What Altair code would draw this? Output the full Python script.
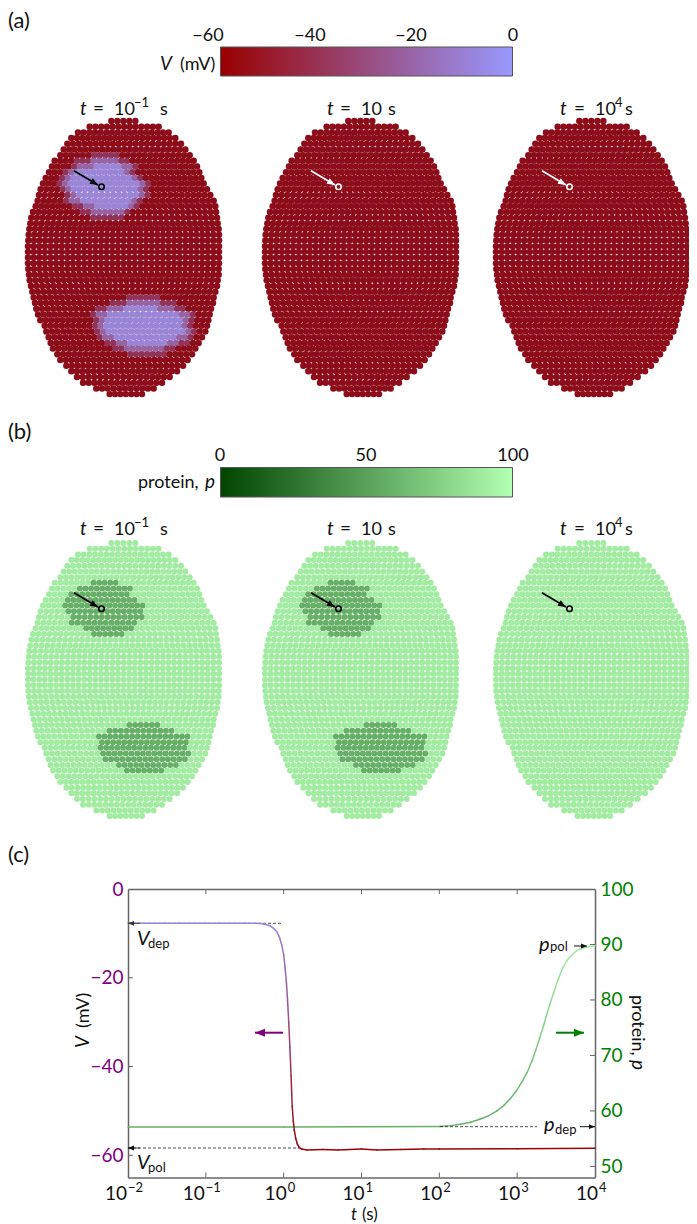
import math
import altair as alt
import pandas as pd

# ---------- values: outline of the cell sheet, row by row (read on a 3x crop) ----------
ROW_LEFT_3X = [325,260,225,205,193,182,172,155,147,138,128,120,113,108,104,98,90,85,82,79,77,76,75,75,75,75,76,78,80,84,88,92,96,100,105,112,125,130,137,143,150,163,172,190,205,222,240,280,320]
ROW_RIGHT_3X = [415,485,515,535,552,565,578,590,600,607,613,620,630,640,650,655,657,660,662,665,666,666,666,666,666,666,665,665,662,660,655,650,648,642,638,634,630,625,615,605,595,585,572,558,540,518,495,470,435]
SPOT1_ROWS = [7,8,9,10,11,12,13,14,15,16]
SPOT1_FIRST = [12,9,8,7,7,7,8,8,10,12]
SPOT1_LAST  = [16,18,18,19,20,20,20,19,18,17]
SPOT2_ROWS = [32,33,34,35,36,37,38,39,40]
SPOT2_FIRST = [18,15,13,13,13,13,14,16,18]
SPOT2_LAST  = [23,26,28,28,28,29,28,26,24]
V_POL_CELL, V_DEP_CELL, V_EDGE_IN, V_EDGE_OUT = -58.5, -8, -22, -42
P_POL_CELL, P_DEP_CELL = 90, 57

LOG_T_V = [-2,-1,-0.5,-0.3,-0.24,-0.175,-0.13,-0.09,-0.055,-0.025,0,0.017,0.035,0.05,0.065,0.08,0.095,0.11,0.124,0.137,0.155,0.175,0.2,0.23,0.3,0.5,0.7,1,1.2,1.5,1.8,2,3,4]
V_CURVE = [-7.7,-7.7,-7.7,-7.75,-7.95,-8.3,-8.85,-9.6,-10.8,-12.6,-14.8,-17.5,-21,-25,-30,-35.6,-42,-49,-52.3,-54.4,-56.2,-57.4,-58.2,-58.6,-58.8,-58.7,-58.8,-58.6,-58.8,-58.7,-58.6,-58.6,-58.5,-58.4]
LOG_T_P = [-2,0,2,2.15,2.27,2.4,2.52,2.63,2.74,2.83,2.91,2.99,3.06,3.13,3.19,3.24,3.29,3.34,3.38,3.44,3.49,3.54,3.59,3.645,3.70,3.755,3.81,3.865,3.92,4]
P_CURVE = [57.1,57.1,57.2,57.35,57.6,57.95,58.5,59.1,60.0,61.0,62.2,63.6,65.2,67.0,69.0,71.0,73.2,75.4,77.4,80.1,82.2,84.2,85.9,87.2,88.1,88.75,89.15,89.45,89.6,89.75]
V_TICKS = [-60,-40,-20,0]
P_TICKS = [50,60,70,80,90,100]
T_TICKS = [0.01,0.1,1,10,100,1000,10000]

FONT = "Lato"
W, H = 681, 1216
CX = alt.Scale(domain=[8, 8 + W], range=[0, W])
CY = alt.Scale(domain=[8 + H, 8])
T_SCALE = alt.Scale(type="log", domain=[0.01, 10000], range=[120, 587], nice=False)
V_SCALE = alt.Scale(domain=[-65, 0], range=[1169.5, 881], nice=False, zero=False)
P_SCALE = alt.Scale(domain=[48, 100], range=[1169.5, 881], nice=False, zero=False)
V_COL = alt.Scale(domain=[-60, 0], range=["#990000", "#9999ff"], interpolate="rgb")
P_COL = alt.Scale(domain=[0, 100], range=["#004400", "#b3ffb3"], interpolate="rgb")
CELL_V_COL = alt.Scale(domain=[-60, 0], range=["#8c0814", "#9c98f5"], interpolate="rgb")
PX = alt.X("px:Q", scale=CX, axis=None)
PY = alt.Y("py:Q", scale=CY, axis=None)
PANEL_DX = [0, 237, 468]
PANEL_DY = [0, 422]

spots = set()
for rows, a, b in ((SPOT1_ROWS, SPOT1_FIRST, SPOT1_LAST), (SPOT2_ROWS, SPOT2_FIRST, SPOT2_LAST)):
    for r, f, l in zip(rows, a, b):
        spots.update((r, c) for c in range(f, l + 1))

def nbrs(r, c):
    return [(r + 1, c), (r - 1, c), (r, c + 1), (r, c - 1)]

cells_a, cells_b = [], []
for r, (lf, rt) in enumerate(zip(ROW_LEFT_3X, ROW_RIGHT_3X)):
    x_l, x_r = lf / 3 + 3, rt / 3 - 3
    n = max(1, round((x_r - x_l) / 5.62))
    y0 = 121 + 5.69 * r
    for k in range(n + 1):
        x0 = x_l + (x_r - x_l) * k / n
        c = round((x0 - 28) / 5.62)
        if (r, c) in spots:
            v = V_DEP_CELL if all(m in spots for m in nbrs(r, c)) else V_EDGE_IN
            p = P_DEP_CELL
        else:
            v = V_EDGE_OUT if any(m in spots for m in nbrs(r, c)) else V_POL_CELL
            p = P_POL_CELL
        for i, dx in enumerate(PANEL_DX):
            cells_a.append({"px": x0 + dx, "py": y0, "val": v if i == 0 else V_POL_CELL})
            cells_b.append({"px": x0 + dx, "py": y0 + PANEL_DY[1], "val": p if i < 2 else P_POL_CELL})

layers = []
layers.append(alt.Chart(pd.DataFrame(cells_a)).mark_circle(size=42, opacity=1).encode(
    x=PX, y=PY, color=alt.Color("val:Q", scale=CELL_V_COL, legend=None)))
layers.append(alt.Chart(pd.DataFrame(cells_b)).mark_circle(size=36, opacity=1).encode(
    x=PX, y=PY, color=alt.Color("val:Q", scale=P_COL, legend=None)))

# colour bars
def bar(y0, y1, c0, c1):
    grad = alt.LinearGradient(gradient="linear", x1=0, x2=1, y1=0, y2=0,
                              stops=[alt.GradientStop(color=c0, offset=0), alt.GradientStop(color=c1, offset=1)])
    return alt.Chart(pd.DataFrame([{"px": 220.5, "px2": 512.5, "py": y0, "py2": y1}])).mark_rect(
        color=grad, stroke="#555555", strokeWidth=1).encode(x=PX, x2="px2:Q", y=PY, y2="py2:Q")
layers.append(bar(47, 76, "#990000", "#9999ff"))
layers.append(bar(467.5, 497, "#004400", "#b3ffb3"))

# panel (c): green curve first, dashes, then red curve
def seg_df(lt, vals):
    return pd.DataFrame([{"t": 10 ** lt[i], "t2": 10 ** lt[i + 1], "a": vals[i], "a2": vals[i + 1],
                          "m": (vals[i] + vals[i + 1]) / 2} for i in range(len(lt) - 1)])

layers.append(alt.Chart(seg_df(LOG_T_P, P_CURVE)).mark_rule(strokeWidth=1.5, strokeCap="round").encode(
    x=alt.X("t:Q", scale=T_SCALE, axis=None), x2="t2:Q",
    y=alt.Y("a:Q", scale=P_SCALE, axis=None), y2="a2:Q",
    color=alt.Color("m:Q", scale=P_COL, legend=None)))

DASHES = [(128, 923.3, 282, 923.3), (128, 1148, 300, 1148), (440, 1126.7, 537, 1126.7)]
layers.append(alt.Chart(pd.DataFrame([{"px": a, "py": b, "px2": c, "py2": d} for a, b, c, d in DASHES])).mark_rule(
    color="#222222", strokeWidth=0.8, strokeDash=[3, 2]).encode(x=PX, x2="px2:Q", y=PY, y2="py2:Q"))

layers.append(alt.Chart(seg_df(LOG_T_V, V_CURVE)).mark_rule(strokeWidth=1.5, strokeCap="round").encode(
    x=alt.X("t:Q", scale=T_SCALE, axis=None), x2="t2:Q",
    y=alt.Y("a:Q", scale=V_SCALE, axis=None), y2="a2:Q",
    color=alt.Color("m:Q", scale=V_COL, legend=None)))

# frame and inward ticks
AX = dict(domainColor="#666666", domainWidth=1.5, tickSize=0, grid=False, title=None, ticks=False)
lab = dict(labelFont=FONT, labelFontSize=19, labelPadding=5)
tick_color = "#666666"
layers.append(alt.Chart(pd.DataFrame({"t": T_TICKS[1:-1]})).mark_rule(color=tick_color, strokeWidth=1).encode(
    x=alt.X("t:Q", scale=T_SCALE, axis=alt.Axis(orient="top", offset=-881, labels=False, **AX)),
    y=alt.value(881), y2=alt.value(886)))
layers.append(alt.Chart(pd.DataFrame({"t": T_TICKS[1:-1]})).mark_rule(color=tick_color, strokeWidth=1).encode(
    x=alt.X("t:Q", scale=T_SCALE, axis=alt.Axis(orient="bottom", offset=-(H - 1169.5), labels=False, **AX)),
    y=alt.value(1164.5), y2=alt.value(1169.5)))
layers.append(alt.Chart(pd.DataFrame({"a": V_TICKS[:-1]})).mark_rule(color=tick_color, strokeWidth=1).encode(
    y=alt.Y("a:Q", scale=V_SCALE, axis=alt.Axis(orient="left", offset=-120, values=V_TICKS, labelColor="#800080", **lab, **AX)),
    x=alt.value(120), x2=alt.value(125)))
layers.append(alt.Chart(pd.DataFrame({"a": P_TICKS[:-1]})).mark_rule(color=tick_color, strokeWidth=1).encode(
    y=alt.Y("a:Q", scale=P_SCALE, axis=alt.Axis(orient="right", offset=-(W - 587), values=P_TICKS, labelColor="#008000", **lab, **AX)),
    x=alt.value(582), x2=alt.value(587)))

# arrows: x0, y0, x1, y1, colour, width, head length
ARROWS = [(140, 923.3, 128, 923.3, "#333333", 0.8, 6), (140, 1148, 128, 1148, "#111111", 0.8, 6),
          (580, 1126.7, 595, 1126.7, "#111111", 1, 6), (574, 946, 587, 946, "#111111", 1, 6),
          (283, 1032.7, 255, 1032.7, "#800080", 2, 10), (556, 1032.7, 584, 1032.7, "#008000", 2, 10)]
RINGS = []
for j, dy in enumerate(PANEL_DY):
    for i, dx in enumerate(PANEL_DX):
        col = "white" if (j == 0 and i > 0) else "black"
        ARROWS.append((74 + dx, 170.7 + dy, 98 + dx, 185 + dy, col, 1.8, 8))
        RINGS.append({"px": 101.5 + dx, "py": 186.7 + dy, "c": col})

arrow_lines, arrow_heads = [], []
for a, b, c, d, col, w, s in ARROWS:
    ln = math.hypot(c - a, d - b)
    arrow_lines.append({"px": a, "py": b, "px2": c, "py2": d, "c": col, "w": w})
    arrow_heads.append({"px": c - (c - a) / ln * s / 2, "py": d - (d - b) / ln * s / 2, "c": col, "s": s * s,
                        "ang": (math.degrees(math.atan2(c - a, b - d)) + 360) % 360})
layers.append(alt.Chart(pd.DataFrame(arrow_lines)).mark_rule().encode(
    x=PX, x2="px2:Q", y=PY, y2="py2:Q", color=alt.Color("c:N", scale=None),
    strokeWidth=alt.StrokeWidth("w:Q", scale=None)))
layers.append(alt.Chart(pd.DataFrame(arrow_heads)).mark_point(shape="M0,-1L0.8,1L-0.8,1Z", filled=True, opacity=1).encode(
    x=PX, y=PY, color=alt.Color("c:N", scale=None), size=alt.Size("s:Q", scale=None),
    angle=alt.Angle("ang:Q", scale=None)))
layers.append(alt.Chart(pd.DataFrame(RINGS)).mark_point(shape="circle", filled=False, size=30, strokeWidth=1.6, opacity=1).encode(
    x=PX, y=PY, color=alt.Color("c:N", scale=None)))

# texts: text, x, y, size, italic, angle, colour, align
K = "#111111"
TEXTS = [("(a)", 8, 28, 22, 0, 0, K, "left"), ("(b)", 8, 439, 22, 0, 0, K, "left"), ("(c)", 8, 862, 22, 0, 0, K, "left"),
         ("V", 160, 70, 19, 1, 0, K, "left"), ("(mV)", 180, 70, 18, 0, 0, K, "left"),
         ("protein,", 138, 488, 18, 0, 0, K, "left"), ("p", 205, 488, 19, 1, 0, K, "left"),
         ("−60", 208, 41, 18, 0, 0, K, "center"), ("−40", 310, 41, 18, 0, 0, K, "center"),
         ("−20", 411, 41, 18, 0, 0, K, "center"), ("0", 513, 41, 18, 0, 0, K, "center"),
         ("0", 220, 461, 18, 0, 0, K, "center"), ("50", 366, 461, 18, 0, 0, K, "center"), ("100", 513, 461, 18, 0, 0, K, "center"),
         ("V", 89, 1048, 19, 1, 270, K, "left"), ("(mV)", 89, 1028, 18, 0, 270, K, "left"),
         ("protein,", 632, 995, 18, 0, 90, K, "left"), ("p", 632, 1060, 19, 1, 90, K, "left"),
         ("t", 351, 1220, 17, 1, 0, K, "left"), ("(s)", 362, 1220, 17, 0, 0, K, "left"),
         ("V", 137, 945, 20, 1, 0, K, "left"), ("dep", 148, 948, 13, 0, 0, K, "left"),
         ("V", 137, 1169, 20, 1, 0, K, "left"), ("pol", 148, 1172, 13, 0, 0, K, "left"),
         ("p", 539, 951, 20, 1, 0, K, "left"), ("pol", 550, 951, 13, 0, 0, K, "left"),
         ("p", 544, 1131, 20, 1, 0, K, "left"), ("dep", 555, 1134, 13, 0, 0, K, "left")]
for yb in (115, 535):
    TEXTS += [("t", 80, yb, 19, 1, 0, K, "left"), ("=", 93, yb, 19, 0, 0, K, "left"), ("10", 114, yb, 18, 0, 0, K, "left"),
              ("−1", 134, yb - 8, 13, 0, 0, K, "left"), ("s", 160, yb, 18, 0, 0, K, "left"),
              ("t", 327, yb, 19, 1, 0, K, "left"), ("=", 340, yb, 19, 0, 0, K, "left"), ("10", 361, yb, 18, 0, 0, K, "left"),
              ("s", 388, yb, 18, 0, 0, K, "left"),
              ("t", 560, yb, 19, 1, 0, K, "left"), ("=", 574, yb, 19, 0, 0, K, "left"), ("10", 595, yb, 18, 0, 0, K, "left"),
              ("4", 615, yb - 8, 13, 0, 0, K, "left"), ("s", 625, yb, 18, 0, 0, K, "left")]
tdf = pd.DataFrame(TEXTS, columns=["text", "px", "py", "size", "it", "ang", "col", "al"])
for (it, ang, col, al), g in tdf.groupby(["it", "ang", "col", "al"]):
    layers.append(alt.Chart(g[["text", "px", "py", "size"]]).mark_text(
        font=FONT, baseline="alphabetic", align=al, angle=int(ang), color=col,
        fontStyle="italic" if it else "normal").encode(
        x=PX, y=PY, text="text:N", size=alt.Size("size:Q", scale=None)))

# x tick labels 10^n
EXPS = [("−2", 0.01), ("−1", 0.1), ("0", 1), ("1", 10), ("2", 100), ("3", 1000), ("4", 10000)]
xdf = pd.DataFrame([{"t": t, "e": e} for e, t in EXPS])
xx = alt.X("t:Q", scale=T_SCALE, axis=None)
for sub, d10, dexp in ((xdf[xdf.e.str.startswith("−")], -1, 0), (xdf[~xdf.e.str.startswith("−")], 3, 4)):
    layers.append(alt.Chart(sub).mark_text(text="10", font=FONT, fontSize=19, align="right", baseline="alphabetic", dx=d10, color=K).encode(
        x=xx, y=alt.value(1200 - 8)))
    layers.append(alt.Chart(sub).mark_text(font=FONT, fontSize=13, align="left", baseline="alphabetic", dx=dexp, color=K).encode(
        x=xx, y=alt.value(1192 - 8), text="e:N"))

chart = alt.layer(*layers).resolve_scale(x="independent", y="independent", color="independent").properties(
    width=W, height=H, padding=0, background="white", autosize=alt.AutoSizeParams(type="none")
).configure_view(stroke=None)

chart.save("out.html", embed_options={"renderer": "svg", "actions": False})
